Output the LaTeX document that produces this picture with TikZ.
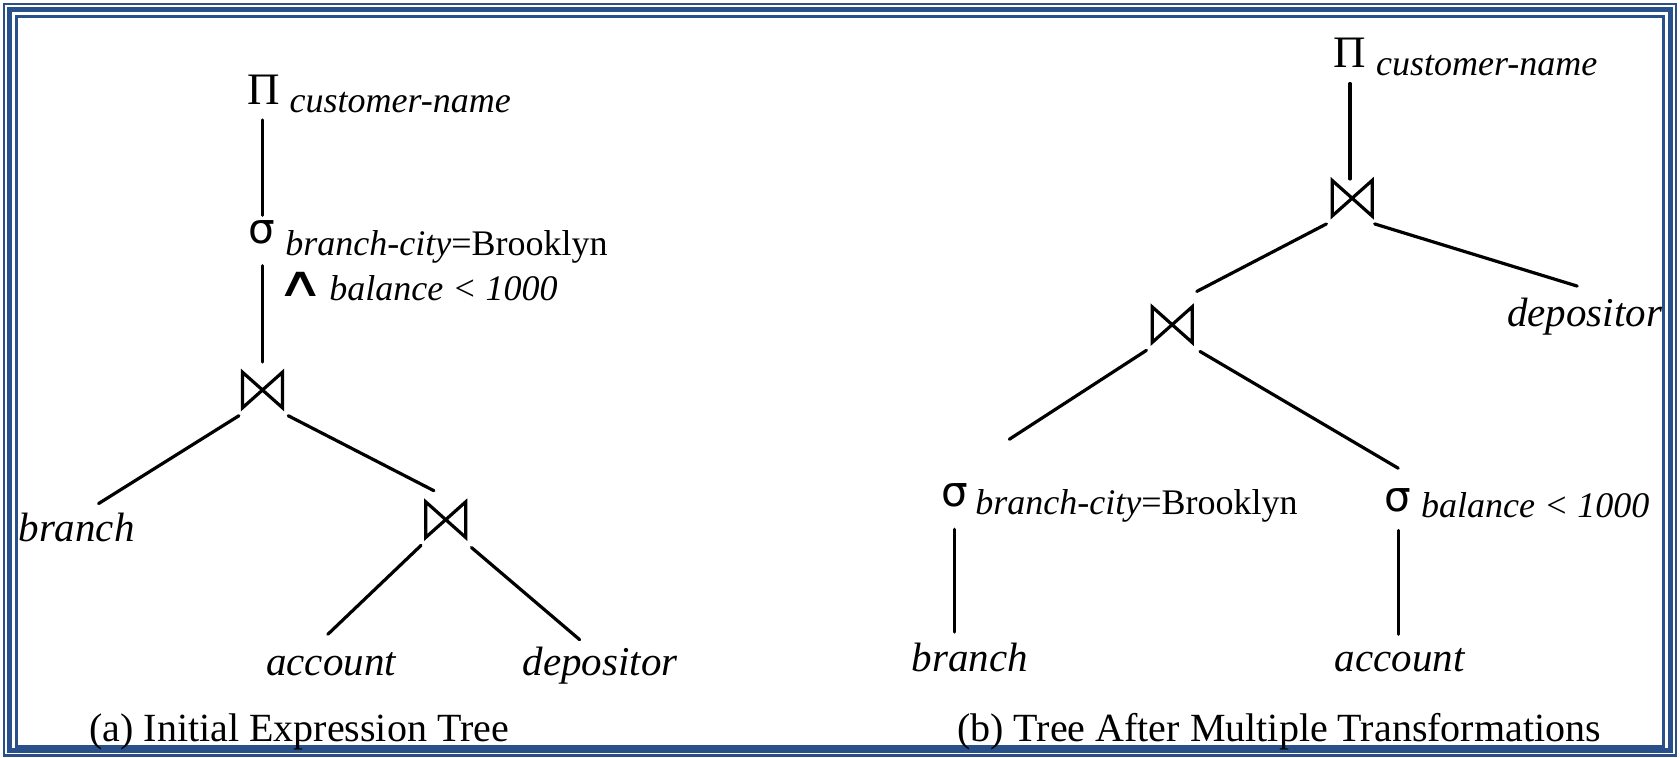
\documentclass[tikz,border=0pt]{standalone}
\usepackage{fontspec}
\usepackage{graphicx}
\setmainfont{Liberation Serif}
\newfontfamily\djv{DejaVu Sans}
\definecolor{bordercol}{RGB}{42,80,138}
\tikzset{
  edge/.style={line width=1.6pt, line cap=round},
  sub/.style={anchor=base west, inner sep=0pt, font=\fontsize{18}{21}\selectfont\itshape},
  leaf/.style={anchor=base, inner sep=0pt, font=\fontsize{20.5}{24}\selectfont\itshape},
  capt/.style={anchor=base west, inner sep=0pt, font=\fontsize{20}{24}\selectfont},
  proj/.style={inner sep=0pt, font=\fontsize{22.5}{26}\selectfont},
  sel/.style={inner sep=0pt, font=\djv\fontsize{21}{24}\selectfont},
  andop/.style={inner sep=0pt, font=\djv\fontsize{22}{26}\selectfont},
  joinnode/.style={inner sep=0pt, minimum width=19.6pt, minimum height=17.4pt},
  bowtie/.style={line width=1.6pt, line join=miter},
  frame/.style={draw=bordercol}
}
\newcommand{\drawbowtie}[1]{\draw[bowtie] (#1.north west) -- (#1.south west) -- (#1.north east) -- (#1.south east) -- cycle;}
\begin{document}
\begin{tikzpicture}[x=0.5357pt, y=-0.5357pt]
\useasboundingbox (0,0) rectangle (1568,707);
% frame
\draw[frame, line width=1.25pt] (3.7,3.7) rectangle (1564.3,705.3);
\draw[frame, line width=2.5pt] (9.3,9.3) rectangle (1558.7,700.8);
\draw[frame, line width=1.5pt] (15,15) rectangle (1553,696.5);

% ---------- left tree ----------
\node[proj] (p1) at (246,84) {Π};
\node[sub] (p1s) at (270,105) {customer-name};
\node[sel] (s1) at (244,217) {σ};
\node[sub] (s1s) at (266,238) {branch-city\upshape =Brooklyn};
\node[andop] (and1) at (281,265) {\scalebox{1.5}[0.95]{∧}};
\node[sub] (s1t) at (307,280) {balance < 1000};
\node[joinnode] (j1) at (245,364) {};
\drawbowtie{j1}
\node[leaf] (b1) at (71.5,505) {branch};
\node[joinnode] (j2) at (416,485) {};
\drawbowtie{j2}
\node[leaf] (a1) at (309,630) {account};
\node[leaf] (d1) at (560,630) {depositor};
\node[capt] (c1) at (83,692) {(a) Initial Expression Tree};

\draw[edge] ([shift={(-1,28)}]p1.center) -- ([shift={(1,-16)}]s1.center);
\draw[edge] ([shift={(1,31)}]s1.center) -- ([shift={(0,-26)}]j1.center);
\draw[edge] ([shift={(-22,24)}]j1.center) -- ([shift={(20.5,-35)}]b1.base);
\draw[edge] ([shift={(24,24)}]j1.center) -- ([shift={(-11,-27)}]j2.center);
\draw[edge] ([shift={(-23,24)}]j2.center) -- ([shift={(-3,-38)}]a1.base);
\draw[edge] ([shift={(24,26)}]j2.center) -- ([shift={(-19,-33)}]d1.base);

% ---------- right tree ----------
\node[proj] (p2) at (1260,49) {Π};
\node[sub] (p2s) at (1284,70) {customer-name};
\node[joinnode] (j3) at (1262,185) {};
\drawbowtie{j3}
\node[leaf] (d2) at (1479,305) {depositor};
\node[joinnode] (j4) at (1094,303) {};
\drawbowtie{j4}
\node[sel] (s2) at (891,462) {σ};
\node[sub] (s2s) at (910,480) {branch-city\upshape =Brooklyn};
\node[sel] (s3) at (1305,467) {σ};
\node[sub] (s3s) at (1326,483) {balance < 1000};
\node[leaf] (b2) at (905,627) {branch};
\node[leaf] (a2) at (1306.5,627) {account};
\node[capt] (c2) at (893,692) {(b) Tree After Multiple Transformations};

\draw[edge] ([shift={(0,29)}]p2.center) -- ([shift={(-2,-18)}]j3.center);
\draw[edge] ([shift={(-24,24)}]j3.center) -- ([shift={(23,-31)}]j4.center);
\draw[edge] ([shift={(21,24)}]j3.center) -- ([shift={(-7,-38)}]d2.base);
\draw[edge] ([shift={(-24,24)}]j4.center) -- ([shift={(51,-52)}]s2.center);
\draw[edge] ([shift={(26,25)}]j4.center) -- ([shift={(0,-30)}]s3.center);
\draw[edge] ([shift={(0,32)}]s2.center) -- ([shift={(-14,-37)}]b2.base);
\draw[edge] ([shift={(0,28)}]s3.center) -- ([shift={(-1.5,-35)}]a2.base);
\end{tikzpicture}
\end{document}
